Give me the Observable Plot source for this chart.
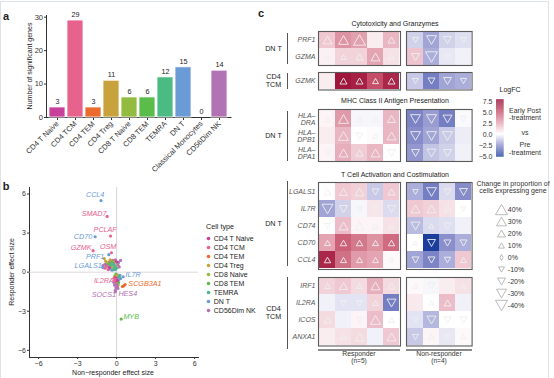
<!DOCTYPE html>
<html><head><meta charset="utf-8">
<script src="https://cdn.jsdelivr.net/npm/d3@7"></script>
<script src="https://cdn.jsdelivr.net/npm/@observablehq/plot@0.6"></script>
<style>
body{margin:0;background:#fff;}
#fig{position:relative;width:554px;height:378px;overflow:hidden;font-family:"Liberation Sans",Arial,sans-serif;color:#222;background:#fff;}
.lbl{position:absolute;white-space:pre;line-height:1.05;text-align:center;}
#fig svg{position:absolute;overflow:visible;}
</style></head><body><div id="fig"></div>
<script>
// ---------- Panel a data ----------
const cellTypes = ["CD4 T Naive","CD4 TCM","CD4 TEM","CD4 Treg","CD8 T Naive","CD8 TEM","TEMRA","DN T","Classical Monocytes","CD56Dim NK"];
const sigGenes = [3,29,3,11,6,6,12,15,0,14];
const typeColors = ["#c93f9c","#e8628e","#eb6b2e","#c8a23c","#93bb3f","#5bbd49","#4cba83","#6b9bd6","#999999","#b273b4"];
const yTicksA = [0,10,20,30];

// ---------- Panel b data ----------
const scatterTypes = ["CD4 T Naive","CD4 TCM","CD4 TEM","CD4 Treg","CD8 Naive","CD8 TEM","TEMRA","DN T","CD56Dim NK"];
const scatterColors = ["#c93f9c","#e8628e","#eb6b2e","#c8a23c","#93bb3f","#5bbd49","#4cba83","#6b9bd6","#b273b4"];
const ptX = [-0.4,-0.3,-0.2,-0.5,-0.35,-0.6,-0.15,-0.25,-0.45,-0.1,
  -0.7,-0.55,-0.3,-0.8,-0.9,-0.2,-0.65,0.1,
  -0.3,-0.1,-0.5,0.0,-0.2,
  -0.4,-0.6,0.05,
  -0.75,-0.15,-0.35,
  -0.85,-0.95,-0.5,
  0.3,0.15,-1.05,-0.9,0.2,-0.1,
  -0.55,0.0,
  0.25,0.1,0.3,0.15,
  0.05,0.2,0.0,0.1,
  -0.05,0.15,-0.1,
  0.1,-0.15,
  -0.2,0.0,-0.1,0.05,
  -0.15,-0.05,-0.1,0.0,-0.2,
  -0.05,0.05,
  0.55,0.45,
  0.0];
const ptY = [0.5,0.3,0.6,0.25,0.15,0.4,0.35,0.45,0.7,0.2,
  0.6,0.8,0.9,0.45,0.3,0.75,0.2,0.55,
  0.65,0.45,0.55,0.3,0.2,
  0.85,0.65,0.7,
  0.75,0.85,0.4,
  0.85,1.05,0.95,
  0.9,0.75,0.5,0.6,0.4,0.95,
  0.35,0.8,
  -0.25,-0.4,-0.5,-0.6,
  -0.2,-0.35,-0.7,-0.9,
  -0.15,-0.8,-0.5,
  -1.0,-0.3,
  -0.45,-0.55,-0.75,-1.1,
  -1.0,-1.2,-1.4,-0.95,-0.8,
  -0.35,-0.65,
  -1.05,-1.1,
  -0.25];
const ptType = ["DN T","DN T","DN T","DN T","DN T","DN T","DN T","DN T","DN T","DN T",
  "CD4 TCM","CD4 TCM","CD4 TCM","CD4 TCM","CD4 TCM","CD4 TCM","CD4 TCM","CD4 TCM",
  "TEMRA","TEMRA","TEMRA","TEMRA","TEMRA",
  "CD8 TEM","CD8 TEM","CD8 TEM",
  "CD8 Naive","CD8 Naive","CD8 Naive",
  "CD4 Treg","CD4 Treg","CD4 Treg",
  "CD56Dim NK","CD56Dim NK","CD56Dim NK","CD56Dim NK","CD56Dim NK","CD56Dim NK",
  "CD4 T Naive","CD4 T Naive",
  "DN T","DN T","DN T","DN T",
  "TEMRA","TEMRA","TEMRA","TEMRA",
  "CD8 TEM","CD8 TEM","CD8 TEM",
  "CD8 Naive","CD8 Naive",
  "CD4 TCM","CD4 TCM","CD4 TCM","CD4 TCM",
  "CD56Dim NK","CD56Dim NK","CD56Dim NK","CD56Dim NK","CD56Dim NK",
  "CD4 T Naive","CD4 T Naive",
  "CD4 TEM","CD4 TEM",
  "CD4 Treg"];
const labGene = ["CCL4","SMAD7","PCLAF","CD70","GZMK","OSM","PRF1","LGALS1","IL7R","IL2RA","SCGB3A1","HES4","SOCS1","MYB"];
const labType = ["DN T","CD4 TCM","CD4 TCM","DN T","CD4 TCM","CD4 TCM","DN T","DN T","DN T","CD4 TCM","CD4 TEM","CD56Dim NK","CD56Dim NK","CD8 TEM"];
const labX = [-1.2,-0.73,-0.47,-1.65,-1.81,-0.4,-0.6,-1.06,0.5,-0.15,0.65,0.1,-0.1,0.35];
const labY = [5.5,4.28,2.77,2.72,1.65,1.49,1.34,0.36,-0.35,-0.65,-0.95,-1.25,-1.5,-3.6];
const labTextX = [-1.65,-1.73,-0.88,-2.58,-2.73,-0.65,-1.65,-2.19,1.27,-0.98,2.18,0.86,-0.98,1.12];
const labTextY = [5.98,4.5,3.23,2.75,1.85,1.98,1.2,0.46,-0.22,-0.64,-0.9,-1.62,-1.76,-3.38];
const effectTicks = [-6,-3,0,3,6];

// ---------- Panel c data ----------
const responderCols = ["R1","R2","R3","R4","R5"];
const nonResponderCols = ["N1","N2","N3","N4"];
const heatGenes = ["PRF1","GZMA","GZMK","HLA-DRA","HLA-DPB1","HLA-DPA1","LGALS1","IL7R","CD74","CD70","CCL4","IRF1","IL2RA","ICOS","ANXA1"];
const geneLabels = ["PRF1","GZMA","GZMK","HLA–\nDRA","HLA–\nDPB1","HLA–\nDPA1","LGALS1","IL7R","CD74","CD70","CCL4","IRF1","IL2RA","ICOS","ANXA1"];
const respLogFC = [
  [1.5,3.0,2.6,0.5,2.0],[0.4,1.2,1.2,2.5,0.8],[0.5,7.2,6.8,5.0,6.5],
  [0.3,2.8,-0.2,-0.2,2.0],[0.5,2.0,0.0,0.1,2.0],[0.3,2.2,1.4,2.0,0.0],
  [0.0,1.5,1.3,-1.2,1.5],[-2.0,-1.0,-0.2,0.7,-0.8],[0.0,1.8,0.3,0.3,0.8],[2.5,4.5,3.8,3.0,4.2],[6.5,4.0,2.8,2.5,0.2],
  [1.2,1.5,1.0,2.2,1.0],[-0.3,-0.6,-0.6,1.2,-3.0],[1.0,-0.3,0.3,1.8,0.0],[0.5,0.8,1.0,-0.3,1.5]];
const respPct = [
  [25,30,40,10,15],[5,10,15,25,10],[3,15,15,10,15],
  [10,30,10,10,20],[10,30,-15,5,25],[-10,25,15,25,-20],
  [15,20,25,-15,15],[-35,-20,-5,-10,-20],[-10,25,25,10,10],[10,12,12,10,12],[12,10,10,10,0],
  [10,20,8,25,15],[-3,-10,-10,10,-25],[15,-5,-10,30,10],[8,10,25,-5,25]];
const nonLogFC = [
  [-1.0,-2.0,-1.0,-0.7],[1.6,-1.8,-0.5,-0.3],[-1.2,-3.0,-2.0,-1.8],
  [-2.8,-2.2,-3.0,-0.1],[-2.6,-2.0,-1.2,-0.4],[-2.3,-1.3,-1.0,-0.3],
  [-1.8,-3.0,-0.8,-2.6],[1.5,1.3,0.8,0.0],[-1.5,-0.8,-0.7,-0.3],[0.0,-5.0,-2.5,-1.8],[-2.0,-2.8,-1.8,1.5],
  [0.2,-0.2,0.5,0.8],[0.6,0.0,1.8,-0.3],[-0.6,-1.6,0.0,0.0],[-1.2,0.3,-0.5,0.2]];
const nonPct = [
  [-10,-30,-20,-10],[-20,-40,-10,-3],[-10,-15,-20,-10],
  [-30,-30,-25,-10],[-30,-30,-30,-5],[-20,-25,-20,-5],
  [-8,-30,-15,-20],[25,25,10,-5],[-25,5,-15,-5],[3,-20,-15,-15],[-15,-15,-12,10],
  [5,-15,-10,5],[5,5,15,-5],[-5,-25,-15,-15],[-10,8,-5,5]];
const logfcTicks = [7.5,5,2.5,0,-2.5,-5];
const sizeLegendValues = [40,30,20,10,0,-10,-20,-30,-40];
const sizeLegendLabels = ["40%","30%","20%","10%","0%","-10%","-20%","-30%","-40%"];

// ---------- helpers ----------
const fig = document.getElementById("fig");
const FONT = '"Liberation Sans", Arial, sans-serif';
const baseStyle = {fontFamily: FONT, fontSize: "7px", background: "transparent", overflow: "visible", color: "#333"};
function put(node, left, top){ node.style.left = left + "px"; node.style.top = top + "px"; fig.appendChild(node); return node; }
function label(text, x, y, o = {}){
  const d = document.createElement("div");
  d.className = "lbl"; d.textContent = text;
  d.style.fontSize = (o.size || 7) + "px";
  d.style.fontWeight = o.weight || "normal";
  d.style.fontStyle = o.style || "normal";
  d.style.color = o.color || "#222";
  const a = o.anchor || "middle";
  d.style.transform = `translate(${a === "middle" ? "-50%" : a === "end" ? "-100%" : "0"},-50%)` + (o.rotate ? ` rotate(${o.rotate}deg)` : "");
  if (a === "start") d.style.textAlign = "left";
  d.style.position = "absolute";
  return put(d, x, y);
}
function box(x, y, w, h, color){
  const d = document.createElement("div");
  d.style.position = "absolute"; d.style.width = w + "px"; d.style.height = h + "px"; d.style.background = color;
  return put(d, x, y);
}
const triUp = {draw(c, s){ const r = Math.sqrt(s / Math.PI), h = r * 0.866; c.moveTo(0, -h); c.lineTo(r, h); c.lineTo(-r, h); c.closePath(); }};
const triDown = {draw(c, s){ const r = Math.sqrt(s / Math.PI), h = r * 0.866; c.moveTo(0, h); c.lineTo(r, -h); c.lineTo(-r, -h); c.closePath(); }};
const thinDiamond = {draw(c){ c.moveTo(0, -3); c.lineTo(1.6, 0); c.lineTo(0, 3); c.lineTo(-1.6, 0); c.closePath(); }};

// light outer frame
const fr = document.createElement("div");
fr.style.cssText = "position:absolute;left:0;top:1px;width:549px;height:380px;border:1px solid #dde2e9;box-sizing:border-box;";
fig.appendChild(fr);

// ---------- Panel a ----------
const barData = cellTypes.map((t, i) => ({type: t, n: sigGenes[i]}));
const pa = Plot.plot({
  width: 235, height: 178, marginLeft: 46, marginRight: 4.6, marginTop: 15, marginBottom: 61,
  style: {...baseStyle, fontSize: "7.5px"},
  x: {domain: cellTypes, padding: 0.1, tickRotate: -45, tickSize: 3, tickPadding: 2, line: true, label: null},
  y: {domain: [0, 30.5], ticks: yTicksA, tickSize: 2, tickPadding: 1.5, line: true, label: null},
  color: {domain: cellTypes, range: typeColors},
  marks: [
    Plot.barY(barData, {x: "type", y: "n", fill: "type", stroke: "white", strokeWidth: 0.8}),
    Plot.text(barData, {x: "type", y: "n", text: d => String(d.n), dy: -6, fill: "#222", fontSize: 7.2})
  ]
});
put(pa, 0, 0);
label("a", 6, 17, {size: 11, weight: "bold"});
label("Number of significant genes", 30, 66, {size: 7, rotate: -90, color: "#222"});

// ---------- Panel b ----------
const pts = ptX.map((x, i) => ({x, y: ptY[i], type: ptType[i]}));
const labs = labGene.map((g, i) => ({gene: g, type: labType[i], x: labX[i], y: labY[i], tx: labTextX[i], ty: labTextY[i]}));
const pb = Plot.plot({
  width: 201, height: 198, marginLeft: 29, marginRight: 3, marginTop: 7, marginBottom: 21,
  style: baseStyle,
  x: {domain: [-6.7, 6.3], ticks: effectTicks, tickSize: 2, tickPadding: 1.5, line: true, label: null},
  y: {domain: [-6.55, 6.5], ticks: effectTicks, tickSize: 2, tickPadding: 1.5, line: true, label: null},
  color: {domain: scatterTypes, range: scatterColors},
  marks: [
    Plot.ruleX([0], {stroke: "#c8c8c8", strokeWidth: 0.8}),
    Plot.ruleY([0], {stroke: "#d8cdd0", strokeWidth: 0.8}),
    Plot.dot(pts, {x: "x", y: "y", fill: "type", r: 1.6}),
    Plot.dot(labs, {x: "x", y: "y", fill: "type", r: 1.6}),
    Plot.text(labs, {x: "tx", y: "ty", text: "gene", fill: "type", fontStyle: "italic", fontSize: 7.2})
  ]
});
put(pb, 0, 180);
label("b", 6, 187, {size: 11, weight: "bold"});
label("Responder effect size", 12, 272, {size: 7, rotate: -90, color: "#222"});
label("Non−responder effect size", 113, 373, {size: 7, color: "#222"});

// legend (Cell type)
label("Cell type", 206, 227, {anchor: "start", size: 7.2});
const pbl = Plot.plot({
  width: 70, height: 84.3, marginLeft: 0, marginRight: 0, marginTop: 5.7, marginBottom: 5,
  style: baseStyle,
  x: {axis: null},
  y: {type: "point", domain: scatterTypes, padding: 0, axis: null},
  color: {domain: scatterTypes, range: scatterColors},
  marks: [
    Plot.dot(scatterTypes, {y: d => d, fill: d => d, r: 1.8, frameAnchor: "left", dx: 4}),
    Plot.text(scatterTypes, {y: d => d, text: d => d, frameAnchor: "left", dx: 9.3, textAnchor: "start", fill: "#222", fontSize: 7})
  ]
});
put(pbl, 204, 232);

// ---------- Panel c ----------
label("c", 261, 14, {size: 11, weight: "bold"});
const colorOpts = {type: "linear", domain: [-5, -2.5, 0, 2.5, 5, 7.5],
  range: ["#1b3d9c", "#8a8ecb", "#ffffff", "#e4a4b2", "#c54f69", "#9a0d36"], clamp: true};
const rOpts = {type: "linear", domain: [0, 40], range: [2, 6]};
const COLW = 16.4, ML = 50;
function heatBlock(genes, cols, lfc, pct, withAxis, h){
  const data = [];
  genes.forEach(g => {
    const gi = heatGenes.indexOf(g);
    cols.forEach((c, ci) => data.push({gene: g, col: c, lfc: lfc[gi][ci], pct: pct[gi][ci]}));
  });
  const symOpts = {x: "col", y: "gene", fill: "none", stroke: "#efefef", strokeWidth: 0.9};
  const marks = [
    Plot.cell(data, {x: "col", y: "gene", fill: "lfc", inset: 0}),
    Plot.dot(data.filter(d => d.pct > 0), {...symOpts, r: d => d.pct, symbol: triUp}),
    Plot.dot(data.filter(d => d.pct < 0), {...symOpts, r: d => -d.pct, symbol: triDown}),
    Plot.dot(data.filter(d => d.pct === 0), {...symOpts, r: 3, symbol: thinDiamond}),
    Plot.frame({stroke: "#5a5a5a", strokeWidth: 1.1})
  ];
  if (withAxis) marks.push(Plot.axisY({tickSize: 0, tickPadding: 3, label: null, fontStyle: "italic", fill: "#555",
    tickFormat: g => geneLabels[heatGenes.indexOf(g)]}));
  return Plot.plot({
    width: (withAxis ? ML : 0) + cols.length * COLW, height: h,
    marginLeft: withAxis ? ML : 0, marginRight: 0, marginTop: 0, marginBottom: 0,
    style: baseStyle,
    x: {type: "band", domain: cols, padding: 0, axis: null},
    y: {type: "band", domain: genes, padding: 0, axis: null},
    color: colorOpts, r: rOpts,
    marks
  });
}
// layout of the blocks (positions only)
const blocks = [
  {genes: ["PRF1","GZMA"], top: 30.5, h: 34, group: "DN T", lineTop: 33, lineBot: 64},
  {genes: ["GZMK"], top: 72, h: 17.5, group: "CD4\nTCM", lineTop: 73, lineBot: 89},
  {genes: ["HLA-DRA","HLA-DPB1","HLA-DPA1"], top: 108.5, h: 52, group: "DN T", lineTop: 110.5, lineBot: 160.5},
  {genes: ["LGALS1","IL7R","CD74","CD70","CCL4"], top: 182, h: 87, group: "DN T", lineTop: 181, lineBot: 266},
  {genes: ["IRF1","IL2RA","ICOS","ANXA1"], top: 276.5, h: 68.5, group: "CD4\nTCM", lineTop: 277, lineBot: 349}
];
blocks.forEach(b => {
  put(heatBlock(b.genes, responderCols, respLogFC, respPct, true, b.h), 318 - ML, b.top);
  put(heatBlock(b.genes, nonResponderCols, nonLogFC, nonPct, false, b.h), 406, b.top);
  box(286.6, b.lineTop, 1, b.lineBot - b.lineTop, "#555");
  label(b.group, 273.5, (b.lineTop + b.lineBot) / 2, {size: 7.2, color: "#222"});
});
label("Cytotoxicity and Granzymes", 395, 23.5, {size: 7});
label("MHC Class II Antigen Presentation", 395, 101, {size: 7});
label("T Cell Activation and Costimulation", 395, 174.5, {size: 7});
box(318, 348.5, 82, 2, "#8a8a8a");
box(406, 348.5, 66, 2, "#8a8a8a");
label("Responder", 359, 353.5, {size: 6.8, color: "#333"});
label("(n=5)", 359, 360.5, {size: 6.5, color: "#333"});
label("Non-responder", 439, 353.5, {size: 6.8, color: "#333"});
label("(n=4)", 439, 360.5, {size: 6.5, color: "#333"});

// LogFC colour bar
label("LogFC", 510, 90, {size: 7});
const barSteps = d3.range(-5.15, 7.9, 0.05);
const pcb = Plot.plot({
  width: 31.6, height: 66.7, marginLeft: 24, marginRight: 0, marginTop: 4.2, marginBottom: 5,
  style: baseStyle,
  x: {domain: [0, 1], axis: null},
  y: {domain: [-5.15, 7.9], ticks: logfcTicks, tickFormat: d3.format(".1f"), tickSize: 0, tickPadding: 4, label: null},
  color: colorOpts,
  marks: [Plot.rect(barSteps, {x1: () => 0, x2: () => 1, y1: d => d, y2: d => d + 0.06, fill: d => d + 0.025})]
});
put(pcb, 471.7, 95);
label("Early Post\n-treatment", 525, 113.8, {size: 7, color: "#333"});
label("vs", 525, 132.7, {size: 7, color: "#333"});
label("Pre\n-treatment", 525, 148.4, {size: 7, color: "#333"});

// size legend
label("Change in proportion of\ncells expressing gene", 513, 187, {size: 7, color: "#333"});
const sizeData = sizeLegendValues.map((v, i) => ({v, lab: sizeLegendLabels[i]}));
const lgOpts = {y: "v", fill: "none", stroke: "#a8a8a8", strokeWidth: 0.8, frameAnchor: "left", dx: 6};
const psl = Plot.plot({
  width: 45, height: 119.5, marginLeft: 0, marginRight: 0, marginTop: 9, marginBottom: 10,
  style: baseStyle,
  x: {axis: null},
  y: {type: "point", domain: sizeLegendValues, padding: 0, axis: null},
  r: rOpts,
  marks: [
    Plot.dot(sizeData.filter(d => d.v > 0), {...lgOpts, r: d => d.v, symbol: triUp}),
    Plot.dot(sizeData.filter(d => d.v < 0), {...lgOpts, r: d => -d.v, symbol: triDown}),
    Plot.dot(sizeData.filter(d => d.v === 0), {...lgOpts, r: 3, symbol: thinDiamond}),
    Plot.text(sizeData, {y: "v", text: "lab", frameAnchor: "left", dx: 12.3, textAnchor: "start", fill: "#333", fontSize: 7})
  ]
});
put(psl, 495, 198);
</script></body></html>
